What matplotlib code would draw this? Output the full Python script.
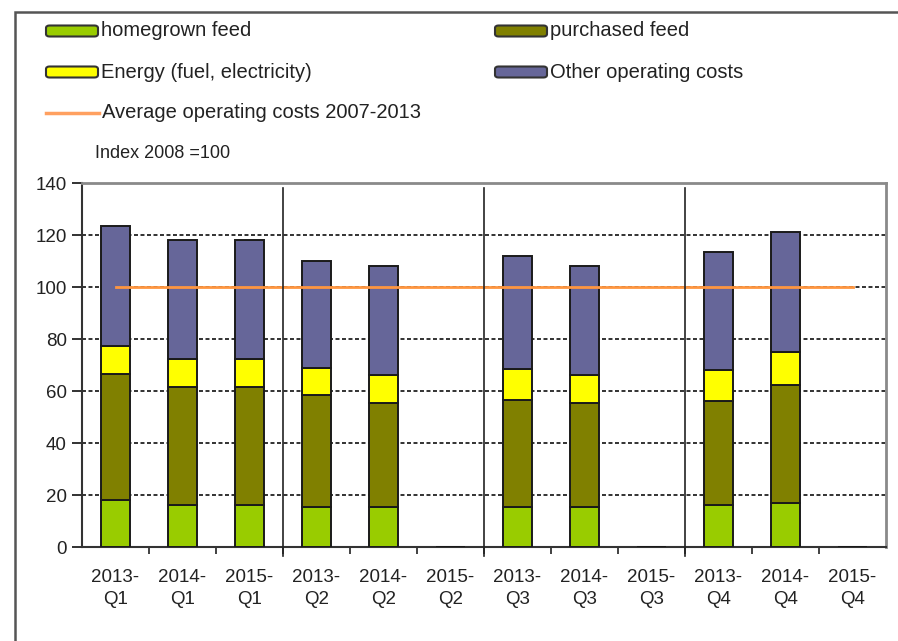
import matplotlib.pyplot as plt
from matplotlib.patches import FancyBboxPatch, Rectangle
from matplotlib.lines import Line2D
import matplotlib.transforms as mtransforms

plt.rcParams['font.family'] = ['Liberation Sans', 'DejaVu Sans']

# quarters, three years each
categories = ["2013-\nQ1", "2014-\nQ1", "2015-\nQ1",
              "2013-\nQ2", "2014-\nQ2", "2015-\nQ2",
              "2013-\nQ3", "2014-\nQ3", "2015-\nQ3",
              "2013-\nQ4", "2014-\nQ4", "2015-\nQ4"]
homegrown = [18, 16, 16, 15.5, 15.5, 0, 15.5, 15.5, 0, 16, 17, 0]
purchased = [48.5, 45.5, 45.5, 43, 40, 0, 41, 40, 0, 40, 45.5, 0]
energy = [11, 11, 11, 10.5, 10.5, 0, 12, 10.5, 0, 12, 12.5, 0]
other = [46, 45.5, 45.5, 41, 42, 0, 43.5, 42, 0, 45.5, 46, 0]
average = 100
y_ticks = [0, 20, 40, 60, 80, 100, 120, 140]

series = [("homegrown feed", homegrown, "#99CC00"),
          ("purchased feed", purchased, "#808000"),
          ("Energy (fuel, electricity)", energy, "#FFFF00"),
          ("Other operating costs", other, "#666699")]

W, H = 898, 641
fig = plt.figure(figsize=(W / 100, H / 100), dpi=100)
ax = fig.add_axes([82 / W, 1 - 547 / H, (886 - 82) / W, (547 - 183) / H])

x = list(range(len(categories)))
bottom = [0] * len(categories)
for name, vals, col in series:
    ax.bar(x, vals, width=0.42, bottom=bottom, color=col,
           edgecolor="#1a1a1a", linewidth=1.4, zorder=3)
    bottom = [b + v for b, v in zip(bottom, vals)]

ax.plot([x[0], x[-1]], [average, average], color="#FF9640", lw=2, zorder=4)

ax.set_xlim(-0.5, len(categories) - 0.5)
ax.set_ylim(0, 140)
ax.set_yticks(y_ticks)
ax.tick_params(axis="y", direction="out", length=7, width=1.3,
               labelsize=13.5, pad=4, colors="#222222")
for yv in y_ticks[1:-1]:
    ax.axhline(yv, color="#222222", lw=1.3, ls=(0, (2.2, 1.4)), zorder=1)

# category labels centred, tick marks at boundaries
ax.set_xticks(x)
ax.set_xticklabels(categories, fontsize=13.5, linespacing=1.4, color="#222222")
ax.tick_params(axis="x", which="major", length=0, pad=16)
ax.set_xticks([i + 0.5 for i in x[:-1]], minor=True)
ax.tick_params(axis="x", which="minor", direction="out", length=5,
               width=1.3, color="#333333")

# quarter separators
trans = mtransforms.blended_transform_factory(ax.transData, ax.transAxes)
for sx in [2.5, 5.5, 8.5]:
    ax.plot([sx, sx], [-0.025, 0.985], color="#222222", lw=1.2,
            transform=trans, clip_on=False, zorder=5)

ax.spines["left"].set_color("#333333")
ax.spines["left"].set_linewidth(1.5)
ax.spines["bottom"].set_color("#333333")
ax.spines["bottom"].set_linewidth(1.5)
ax.spines["top"].set_color("#8a8a8a")
ax.spines["top"].set_linewidth(2)
ax.spines["right"].set_color("#8a8a8a")
ax.spines["right"].set_linewidth(2)

# legend drawn by hand in pixel positions
def fx(px):
    return px / W


def fy(py):
    return 1 - py / H


legend_pos = [(46, 31), (495, 31), (46, 72), (495, 72)]
for (name, vals, col), (lx, ly) in zip(series, legend_pos):
    fig.add_artist(FancyBboxPatch((fx(lx), fy(ly + 5.5)), fx(52), 11 / H,
                                  boxstyle="round,pad=0,rounding_size=0.004",
                                  facecolor=col, edgecolor="#333333", lw=1.5,
                                  transform=fig.transFigure))
    fig.text(fx(lx + 55), fy(ly), name, fontsize=14.5, va="center",
             ha="left", color="#222222")

fig.add_artist(Line2D([fx(46), fx(99)], [fy(113), fy(113)],
                      color="#FFA060", lw=2.5, transform=fig.transFigure))
fig.text(fx(102), fy(113), "Average operating costs 2007-2013", fontsize=14.5,
         va="center", ha="left", color="#222222")
fig.text(fx(95), fy(153), "Index 2008 =100", fontsize=13, va="center",
         ha="left", color="#222222")

# outer frame
fig.add_artist(Rectangle((fx(15), -0.02), 1.05, fy(12) + 0.02, fill=False,
                         edgecolor="#555555", lw=1.8,
                         transform=fig.transFigure, clip_on=False))

fig.savefig("out.png", dpi=100)
